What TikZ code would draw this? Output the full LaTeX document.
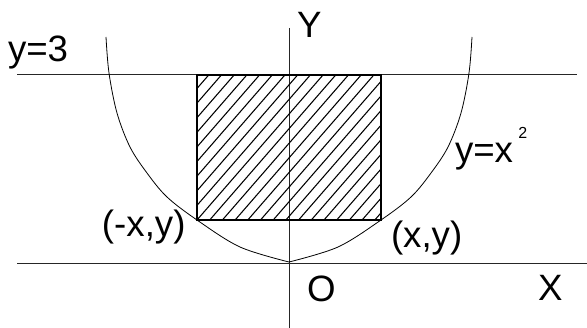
\documentclass[tikz,border=0pt]{standalone}
\usepackage{fontspec}
\setmainfont{Liberation Sans}
\begin{document}
\begin{tikzpicture}[x=0.75pt,y=-0.75pt,
  lbl/.style={inner sep=0pt,outer sep=0pt,anchor=base west,font=\fontsize{27.5}{32}\selectfont},
  axis/.style={line width=0.65pt,black!85},
  hatch/.style={line width=0.8pt,black},
  border/.style={line width=0.9pt,black}]
\useasboundingbox (0,0) rectangle (587,328);
% axes and line y=3
\coordinate (xl) at (17,263); \coordinate (xr) at (587,263);
\coordinate (yt) at (289,28); \coordinate (yb) at (289,328);
\coordinate (ll) at (17,74); \coordinate (lr) at (577,74);
\draw[axis] (xl) -- (xr);
\draw[axis] (yt) -- (yb);
\draw[axis] (ll) -- (lr);
% hatched rectangle
\coordinate (r1) at (197,75); \coordinate (r2) at (381,220);
\begin{scope}
\clip (r1) rectangle (r2);
\foreach \n in {-11,...,15}{
  \draw[hatch] ({197+\n*12.7},220) -- ({197+\n*12.7+126},75);
}
\end{scope}
\draw[border] (r1) rectangle (r2);
% curve (two branches meeting at the origin)
\coordinate (vx) at (289,262);
\draw[line width=0.6pt] plot[smooth,tension=0.55] coordinates {
 (106,37) (109,73) (117,113) (130,147) (147,173) (167,197) (197,220) (240,247) (289,262)};
\draw[line width=0.6pt] plot[smooth,tension=0.55] coordinates {
 (472,37) (469,73) (461,113) (448,147) (431,173) (411,197) (381,220) (338,247) (289,262)};
% labels
\node[lbl] (ly3) at (8,62) {y=3};
\node[lbl] (lY) at (297,38) {Y};
\node[lbl] (lmxy) at (102,237) {(-x,y)};
\node[lbl] (lxy) at (391,248) {(x,y)};
\node[lbl] (lyx) at (455,163) {y=x};
\node[lbl,font=\fontsize{12}{14}\selectfont] (lsq) at ([xshift=4pt,yshift=18.5pt]lyx.base east) {2};
\node[lbl] (lO) at (307,302) {O};
\node[lbl] (lX) at (538,301) {X};
\end{tikzpicture}
\end{document}
